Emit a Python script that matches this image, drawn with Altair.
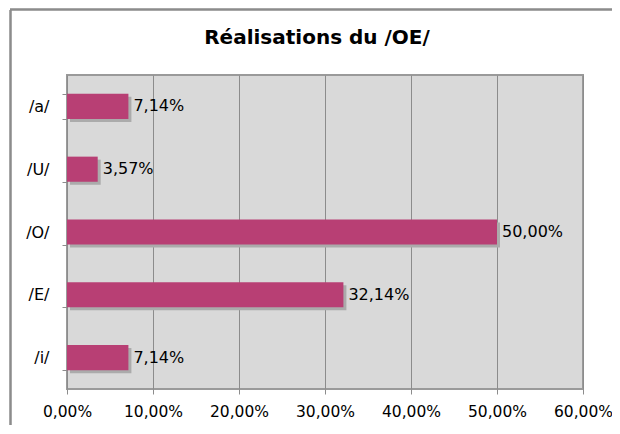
import altair as alt
import pandas as pd

categories = ["/a/", "/U/", "/O/", "/E/", "/i/"]
values = [0.0714, 0.0357, 0.5000, 0.3214, 0.0714]
x_ticks = [0, 0.1, 0.2, 0.3, 0.4, 0.5, 0.6]
title_text = "Réalisations du /OE/"

df = pd.DataFrame({"cat": categories, "val": values})

FONT = "DejaVu Sans"
BAR = "#b83f74"

y_enc = alt.Y("cat:N", sort=categories, title=None,
              scale=alt.Scale(paddingInner=0.6, paddingOuter=0.3),
              axis=alt.Axis(tickBand="extent", tickSize=5, tickColor="#8c8c8c",
                            domain=False, grid=False, labelFont=FONT, labelFontSize=16,
                            labelColor="#000", labelPadding=13))
x_enc = alt.X("val:Q", title=None,
              scale=alt.Scale(domain=[0, 0.6], nice=False),
              axis=alt.Axis(values=x_ticks, tickSize=5, tickColor="#8c8c8c",
                            domain=False, grid=True, gridColor="#8c8c8c", gridWidth=1,
                            labelFont=FONT, labelFontSize=15.5, labelColor="#000",
                            labelPadding=10, labelOverlap=False, labelFlush=False,
                            labelExpr="replace(format(datum.value, '.2%'), '.', ',')"))

base = alt.Chart(df)

shadow = base.mark_bar(color="#ababab", xOffset=3, yOffset=3).encode(x=x_enc, y=y_enc)
bars = base.mark_bar(color=BAR).encode(x=x_enc, y=y_enc)
labels = base.transform_calculate(
    lab="replace(format(datum.val, '.2%'), '.', ',')"
).mark_text(align="left", baseline="middle", dx=5, font=FONT, fontSize=16,
            color="#000").encode(x="val:Q", y=alt.Y("cat:N", sort=categories), text="lab:N")

title = alt.Chart(pd.DataFrame({"t": [title_text]})).mark_text(
    align="center", baseline="alphabetic", font=FONT, fontSize=20, fontWeight="bold",
    color="#000").encode(x=alt.value(250), y=alt.value(-31), text="t:N")

top_line = base.mark_rule(color="#8c8c8c", strokeWidth=1.5).encode(
    x=alt.value(-57), x2=alt.value(600), y=alt.value(-65.5))
left_line = base.mark_rule(color="#8c8c8c", strokeWidth=1.5).encode(
    x=alt.value(-56.5), y=alt.value(-65), y2=alt.value(400))

chart = alt.layer(shadow, bars, labels, title, top_line, left_line).properties(
    width=516, height=314,
    autosize=alt.AutoSizeParams(type="none"),
    padding={"left": 59, "top": 67, "right": 29, "bottom": 36},
).configure(background="white").configure_view(fill="#d9d9d9", stroke="#9a9a9a", strokeWidth=2)

chart.save("out.html", embed_options={"renderer": "svg", "actions": False})
